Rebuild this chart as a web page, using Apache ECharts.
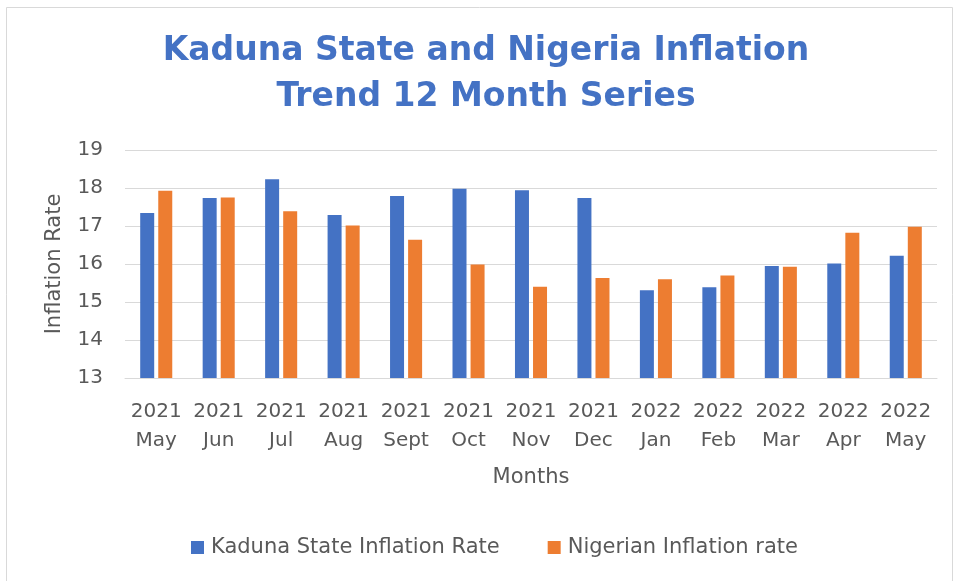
<!DOCTYPE html>
<html>
<head>
<meta charset="utf-8">
<script src="https://cdn.jsdelivr.net/npm/echarts@6/dist/echarts.min.js"></script>
<style>
  html, body { margin: 0; padding: 0; background: #fff; }
  #chart { width: 955px; height: 581px; }
</style>
</head>
<body>
<div id="chart"></div>
<script>
var years = ['2021', '2021', '2021', '2021', '2021', '2021', '2021', '2021', '2022', '2022', '2022', '2022', '2022'];
var months = ['May', 'Jun', 'Jul', 'Aug', 'Sept', 'Oct', 'Nov', 'Dec', 'Jan', 'Feb', 'Mar', 'Apr', 'May'];
var kaduna = [17.34, 17.74, 18.23, 17.29, 17.79, 17.98, 17.94, 17.74, 15.31, 15.39, 15.95, 16.01, 16.22];
var nigeria = [17.93, 17.75, 17.39, 17.01, 16.64, 15.99, 15.40, 15.63, 15.60, 15.70, 15.93, 16.82, 16.98];
var yTicks = [13, 14, 15, 16, 17, 18, 19];

var categories = years.map(function (y, i) { return y + '\n' + months[i]; });

var textColor = '#595959';
var font = 'DejaVu Sans';

var chart = echarts.init(document.getElementById('chart'));
chart.setOption({
    animation: false,
    backgroundColor: '#fff',
    graphic: [{
        type: 'rect',
        shape: { x: 6.5, y: 7.5, width: 946, height: 600 },
        style: { fill: 'none', stroke: '#D9D9D9', lineWidth: 1 }
    }],
    title: {
        text: 'Kaduna State and Nigeria Inflation\nTrend 12 Month Series',
        left: 486,
        top: 28,
        textAlign: 'center',
        padding: 0,
        textStyle: {
            fontFamily: font,
            fontWeight: 'bold',
            fontSize: 33,
            lineHeight: 46,
            color: '#4472C4'
        }
    },
    legend: {
        left: 186,
        top: 532,
        icon: 'rect',
        itemWidth: 13,
        itemHeight: 13,
        itemGap: 48,
        textStyle: { fontFamily: font, fontSize: 21, color: textColor, padding: [0, 0, 0, 2] },
        data: ['Kaduna State Inflation Rate', 'Nigerian Inflation rate']
    },
    grid: { left: 125, right: 18, top: 150, bottom: 203 },
    xAxis: {
        type: 'category',
        data: categories,
        name: 'Months',
        nameLocation: 'middle',
        nameGap: 89,
        nameTextStyle: { fontFamily: font, fontSize: 21, color: textColor },
        axisLine: { lineStyle: { color: '#D9D9D9', width: 1 } },
        axisTick: { show: false },
        axisLabel: {
            fontFamily: font, fontSize: 20, color: textColor,
            lineHeight: 29, margin: 19, interval: 0
        }
    },
    yAxis: {
        type: 'value',
        min: yTicks[0],
        max: yTicks[yTicks.length - 1],
        interval: 1,
        name: 'Inflation Rate',
        nameLocation: 'middle',
        nameGap: 60,
        nameTextStyle: { fontFamily: font, fontSize: 21, color: textColor },
        axisLine: { show: false },
        axisTick: { show: false },
        axisLabel: { fontFamily: font, fontSize: 20, color: textColor, margin: 22 },
        splitLine: { lineStyle: { color: '#D9D9D9', width: 1 } }
    },
    series: [
        {
            name: 'Kaduna State Inflation Rate',
            type: 'bar',
            data: kaduna,
            barWidth: 14,
            barGap: '29%',
            itemStyle: { color: '#4472C4' }
        },
        {
            name: 'Nigerian Inflation rate',
            type: 'bar',
            data: nigeria,
            barWidth: 14,
            itemStyle: { color: '#ED7D31' }
        }
    ]
});
</script>
</body>
</html>
